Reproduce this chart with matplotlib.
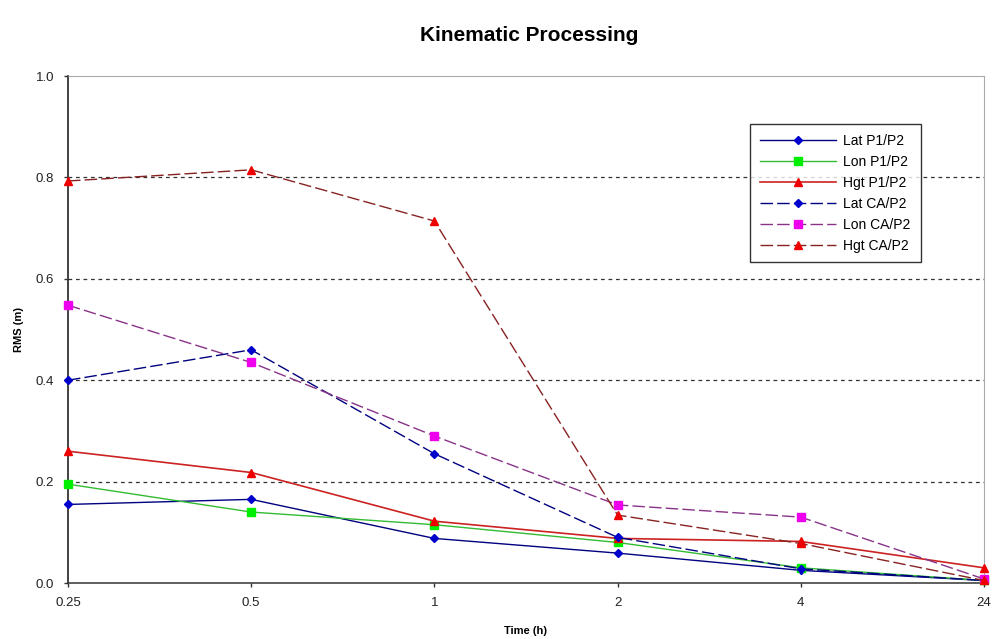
import numpy as np
import matplotlib.pyplot as plt

plt.rcParams['font.family'] = ['Liberation Sans', 'DejaVu Sans']

# categorias del eje x (tiempo en horas), espaciado uniforme
time_labels = ['0.25', '0.5', '1', '2', '4', '24']

lat_p1p2 = [0.155, 0.165, 0.088, 0.059, 0.025, 0.005]
lon_p1p2 = [0.195, 0.140, 0.115, 0.080, 0.030, 0.005]
hgt_p1p2 = [0.260, 0.218, 0.122, 0.088, 0.082, 0.030]
lat_cap2 = [0.400, 0.460, 0.255, 0.090, 0.028, 0.005]
lon_cap2 = [0.548, 0.435, 0.290, 0.154, 0.130, 0.008]
hgt_cap2 = [0.793, 0.815, 0.714, 0.134, 0.078, 0.005]

xx = np.arange(len(time_labels))

fig = plt.figure(figsize=(9.94, 6.39), dpi=100)
ax = fig.add_axes([0.0684, 0.0876, 0.9215, 0.7934])

dash = (0, (9, 3))
ax.plot(xx, lat_p1p2, color='#000080', lw=1.0, marker='D', ms=4.5,
        mfc='#0000cc', mec='#0000cc', label='Lat P1/P2')
ax.plot(xx, lon_p1p2, color='#33bb33', lw=1.0, marker='s', ms=5.5,
        mfc='#00ee00', mec='#00ee00', label='Lon P1/P2')
ax.plot(xx, hgt_p1p2, color='#cc2222', lw=1.2, marker='^', ms=6,
        mfc='#ee0000', mec='#ee0000', label='Hgt P1/P2')
ax.plot(xx, lat_cap2, color='#000080', lw=1.0, ls=dash, marker='D', ms=4.5,
        mfc='#0000cc', mec='#0000cc', label='Lat CA/P2')
ax.plot(xx, lon_cap2, color='#883388', lw=1.0, ls=dash, marker='s', ms=5.5,
        mfc='#ee00ee', mec='#ee00ee', label='Lon CA/P2')
ax.plot(xx, hgt_cap2, color='#882222', lw=1.0, ls=dash, marker='^', ms=6,
        mfc='#ee0000', mec='#ee0000', label='Hgt CA/P2')

ax.set_xlim(0, len(time_labels) - 1)
ax.set_ylim(0, 1.0)
ax.set_xticks(xx)
ax.set_xticklabels(time_labels)
ax.set_yticks(np.arange(0, 1.01, 0.2))
ax.set_yticklabels(['0.0', '0.2', '0.4', '0.6', '0.8', '1.0'])
ax.tick_params(labelsize=9.5, length=3, width=1, color='#333333',
               colors='#222222')
ax.tick_params(axis='x', pad=7)
ax.tick_params(axis='y', pad=7)

# grilla punteada horizontal
for yy in [0.2, 0.4, 0.6, 0.8]:
    ax.axhline(yy, color='#333333', lw=0.9, ls=(0, (3, 3)), zorder=0)

ax.spines['left'].set_color('#222222')
ax.spines['bottom'].set_color('#444444')
ax.spines['left'].set_linewidth(1.2)
ax.spines['bottom'].set_linewidth(1.2)
ax.spines['top'].set_color('#aaaaaa')
ax.spines['right'].set_color('#aaaaaa')
for s in ax.spines.values():
    s.set_zorder(1)

for ln in ax.lines:
    ln.set_clip_on(False)

ax.set_xlabel('Time (h)', fontsize=8, fontweight='bold', labelpad=12)
ax.set_ylabel('RMS (m)', fontsize=8, fontweight='bold', labelpad=8)
fig.text(0.532, 0.945, 'Kinematic Processing', fontsize=15,
         fontweight='bold', ha='center', va='center')

leg = ax.legend(loc='upper left', bbox_to_anchor=(0.745, 0.905), fontsize=10,
                frameon=True, fancybox=False, edgecolor='black',
                handlelength=5.5, labelspacing=0.5, borderpad=0.7,
                handletextpad=0.5, borderaxespad=0)
leg.get_frame().set_linewidth(1.0)

plt.savefig('out.png', dpi=100)
